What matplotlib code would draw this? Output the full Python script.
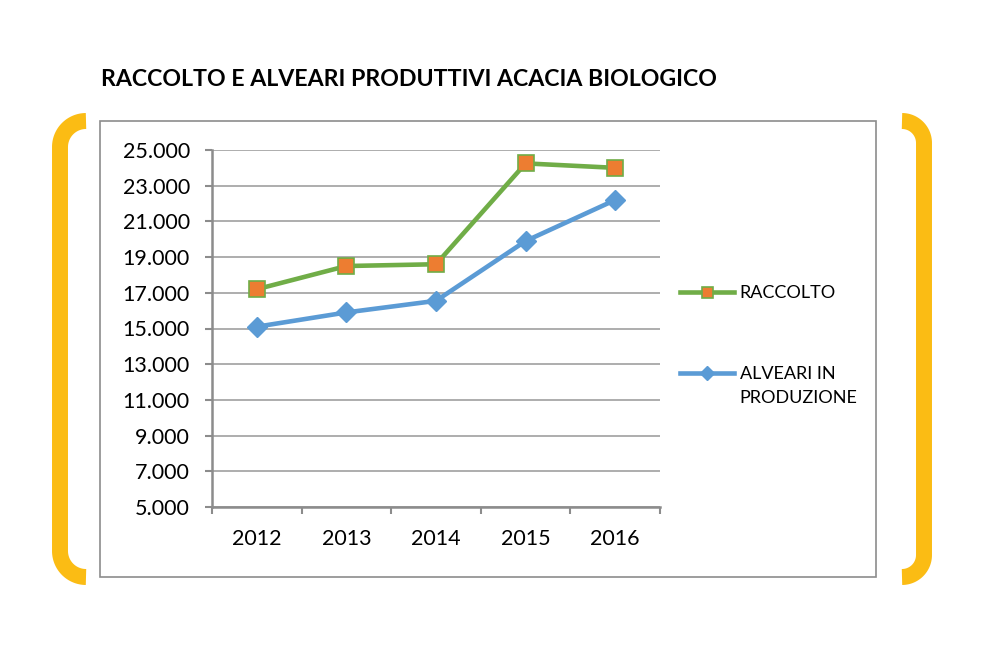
import numpy as np
import matplotlib.pyplot as plt
from matplotlib.ticker import FuncFormatter, FixedLocator

plt.rcParams['font.family'] = ['Lato', 'DejaVu Sans']

# data
years = ['2012', '2013', '2014', '2015', '2016']
raccolto = [17200, 18500, 18600, 24250, 24000]
alveari = [15100, 15900, 16550, 19900, 22200]
yticks = list(range(5000, 25001, 2000))

fig = plt.figure(figsize=(9.9, 6.6), dpi=100)

# background layer: frame box and yellow brackets, in pixel coords
bg = fig.add_axes([0, 0, 1, 1], zorder=0)
bg.set_xlim(0, 990)
bg.set_ylim(660, 0)
bg.axis('off')
bg.add_patch(plt.Rectangle((100, 120.5), 776, 456, fill=False, ec='#8c8c8c', lw=1.2))

def bracket(xv, xend, top, bottom, r):
    s = np.sign(xend - xv)
    t = np.linspace(0, np.pi / 2, 30)
    cx, cy = xend, top + r
    xs_top = cx - s * r * np.sin(t)
    ys_top = cy - r * np.cos(t)
    cy2 = bottom - r
    xs_bot = cx - s * r * np.cos(t)
    ys_bot = cy2 + r * np.sin(t)
    xs = np.concatenate([xs_top, xs_bot])
    ys = np.concatenate([ys_top, ys_bot])
    bg.plot(xs, ys, color='#FBBC14', lw=11.5, solid_capstyle='butt')

bracket(60, 86, 121, 577, 26)
bracket(924, 902, 121, 577, 22)

fig.text(101, 660 - 80, 'RACCOLTO E ALVEARI PRODUTTIVI ACACIA BIOLOGICO',
         fontsize=16.7, fontweight='bold', ha='left', va='center',
         transform=None)

ax = fig.add_axes([212 / 990, (660 - 507) / 660, 448 / 990, 357 / 660], zorder=1)
ax.set_facecolor('none')
x = np.arange(len(years))
ax.plot(x, raccolto, color='#70AD47', lw=3.3, marker='s', ms=11,
        mfc='#ED7D31', mec='#70AD47', mew=1.2, label='RACCOLTO', zorder=3)
ax.plot(x, alveari, color='#5B9BD5', lw=3.3, marker='D', ms=10,
        mfc='#5B9BD5', mec='#5B9BD5', label='ALVEARI IN', zorder=3)

ax.set_xlim(-0.5, len(years) - 0.5)
ax.set_ylim(5000, 25000)
ax.set_yticks(yticks)
ax.yaxis.set_major_formatter(FuncFormatter(lambda v, p: f'{int(v):,}'.replace(',', '.')))
ax.set_xticks(x)
ax.set_xticklabels(years)
ax.xaxis.set_minor_locator(FixedLocator(np.arange(-0.5, len(years), 1.0)))
ax.tick_params(axis='x', which='major', length=0, pad=16, labelsize=15.5)
ax.tick_params(axis='x', which='minor', length=5, width=1.5, color='#8c8c8c', direction='out')
ax.tick_params(axis='y', length=5, width=1.5, color='#8c8c8c', pad=11, labelsize=15.5)
ax.grid(axis='y', color='#a0a0a0', lw=1.2)
ax.set_axisbelow(True)
for side in ['top', 'right']:
    ax.spines[side].set_visible(False)
for side in ['left', 'bottom']:
    ax.spines[side].set_color('#8c8c8c')
    ax.spines[side].set_linewidth(1.8)

leg = ax.legend(loc='upper left', bbox_to_anchor=(1.009, 0.666), frameon=False,
                fontsize=13, handlelength=3.0, handletextpad=0.3, labelspacing=3.6,
                markerscale=0.72)

# second line of the multi-line legend label, placed under "ALVEARI IN"
fig.canvas.draw()
bb = leg.get_texts()[1].get_window_extent()
fig.text(bb.x0, bb.y0 - 24, 'PRODUZIONE', fontsize=13, ha='left', va='bottom',
         transform=None)

fig.savefig('out.png', dpi=100, facecolor='white')
